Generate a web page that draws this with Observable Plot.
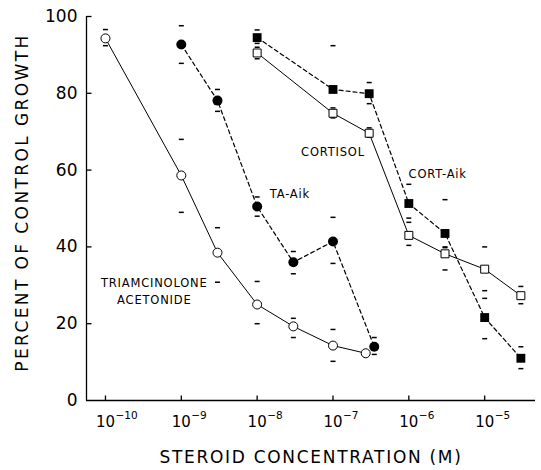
<!DOCTYPE html>
<html><head><meta charset="utf-8">
<script src="https://cdn.jsdelivr.net/npm/d3@7"></script>
<script src="https://cdn.jsdelivr.net/npm/@observablehq/plot@0.6"></script>
<style>html,body{margin:0;padding:0;background:#fff}</style>
</head><body><div id="chart"></div>
<script>
// ---- Data ----
const taConc   = [1e-10, 1e-9, 3e-9, 1e-8, 3e-8, 1e-7, 2.7e-7];
const taGrowth = [94.3, 58.6, 38.5, 25.0, 19.3, 14.3, 12.3];
const taHigh   = [96.6, 68.0, 45.0, 31.0, 21.4, 18.5, null];
const taLow    = [92.4, 49.0, 30.8, 20.0, 16.4, 10.2, null];

const taAikConc   = [1e-9, 3e-9, 1e-8, 3e-8, 1e-7, 3.5e-7];
const taAikGrowth = [92.7, 78.1, 50.5, 36.0, 41.4, 14.0];
const taAikHigh   = [97.6, 81.0, 53.0, 38.8, 47.7, 16.4];
const taAikLow    = [87.8, 75.3, 48.0, 33.0, 35.7, 12.0];

const cortConc   = [1e-8, 1e-7, 3e-7, 1e-6, 3e-6, 1e-5, 3e-5];
const cortGrowth = [90.5, 74.8, 69.6, 43.0, 38.2, 34.2, 27.3];
const cortHigh   = [92.0, 76.2, 71.0, 46.4, 40.0, 40.0, 29.7];
const cortLow    = [89.0, 73.6, 68.6, 40.4, 34.0, 28.6, 25.2];

const cortAikConc   = [1e-8, 1e-7, 3e-7, 1e-6, 3e-6, 1e-5, 3e-5];
const cortAikGrowth = [94.5, 81.0, 79.9, 51.3, 43.5, 21.6, 11.0];
const cortAikHigh   = [96.5, 92.4, 82.8, 56.3, 52.3, 26.6, 14.0];
const cortAikLow    = [93.0, null, 77.3, 47.5, 39.8, 16.1, 8.3];

const xTicks = [1e-10, 1e-9, 1e-8, 1e-7, 1e-6, 1e-5];
const xTickBase = "10";
const xTickExponents = ["-10", "-9", "-8", "-7", "-6", "-5"];
const yTicks = [0, 20, 40, 60, 80, 100];
const xDomain = [Math.pow(10, -10.25), Math.pow(10, -4.33)];
const yDomain = [0, 100];

const labels = [
  {conc: 1e-7,   growth: 65.1, text: "CORTISOL"},
  {conc: 2.4e-6, growth: 59.4, text: "CORT-Aik"},
  {conc: 2.7e-8, growth: 54.2, text: "TA-Aik"},
  {conc: 4.4e-10, growth: 28.7, text: "TRIAMCINOLONE\nACETONIDE"}
];
const xTitle = "STEROID CONCENTRATION (M)";
const yTitle = "PERCENT OF CONTROL GROWTH";

// ---- Build tables ----
const rows = (conc, growth) => conc.map((c, i) => ({conc: c, growth: growth[i]}));
const caps = (conc, hi, lo) => conc.flatMap((c, i) => [hi[i], lo[i]].filter(v => v != null).map(v => ({conc: c, v})));

const ta = rows(taConc, taGrowth), taAik = rows(taAikConc, taAikGrowth);
const cort = rows(cortConc, cortGrowth), cortAik = rows(cortAikConc, cortAikGrowth);
const errs = [
  ...caps(taConc, taHigh, taLow), ...caps(taAikConc, taAikHigh, taAikLow),
  ...caps(cortConc, cortHigh, cortLow), ...caps(cortAikConc, cortAikHigh, cortAikLow)
];
const xTickRows = xTicks.map((t, i) => ({conc: t, base: xTickBase, exp: xTickExponents[i].replace("-", "\u2212")}));

// custom symbols
const hline = {draw(ctx, size){ const w = Math.sqrt(size/Math.PI); ctx.moveTo(-w,0); ctx.lineTo(w,0);} };
const tickRight = {draw(ctx, size){ const w = Math.sqrt(size/Math.PI); ctx.moveTo(0,0); ctx.lineTo(w,0);} };
const tickUp = {draw(ctx, size){ const w = Math.sqrt(size/Math.PI); ctx.moveTo(0,0); ctx.lineTo(0,-w);} };

const font = "DejaVu Sans";
const chart = Plot.plot({
  width: 541, height: 470,
  marginLeft: 86, marginRight: 6, marginTop: 16, marginBottom: 70,
  style: {fontFamily: font, background: "#fff", color: "#000"},
  x: {type: "log", domain: xDomain, axis: null},
  y: {domain: yDomain},
  marks: [
    Plot.ruleX([xDomain[0]], {stroke: "#000", strokeWidth: 1.3}),
    Plot.ruleY([yDomain[0]], {stroke: "#000", strokeWidth: 1.3}),
    Plot.dot(yTicks.filter(d => d > 0), {x: () => xDomain[0], y: d => d, symbol: tickRight, r: 5, fill: "none", stroke: "#000", strokeWidth: 1.3}),
    Plot.dot(xTicks, {x: d => d, y: () => 0, symbol: tickUp, r: 5, fill: "none", stroke: "#000", strokeWidth: 1.3}),
    Plot.axisY({ticks: yTicks, tickSize: 0, tickPadding: 9, fontSize: 17, label: null}),
    Plot.text(xTickRows, {x: "conc", y: () => 0, text: "base", dy: 22, fontSize: 15, fill: "#000"}),
    Plot.text(xTickRows, {x: "conc", y: () => 0, text: "exp", dx: 10, dy: 15, textAnchor: "start", fontSize: 10.5, fill: "#000"}),
    Plot.line(ta, {x: "conc", y: "growth", stroke: "#000", strokeWidth: 1}),
    Plot.line(cort, {x: "conc", y: "growth", stroke: "#000", strokeWidth: 1}),
    Plot.line(taAik, {x: "conc", y: "growth", stroke: "#000", strokeWidth: 1.2, strokeDasharray: "4,3"}),
    Plot.line(cortAik, {x: "conc", y: "growth", stroke: "#000", strokeWidth: 1.2, strokeDasharray: "4,3"}),
    Plot.dot(errs, {x: "conc", y: "v", symbol: hline, r: 2.5, fill: "none", stroke: "#000", strokeWidth: 1.5}),
    Plot.dot(ta, {x: "conc", y: "growth", r: 4.5, fill: "#fff", stroke: "#000", strokeWidth: 1}),
    Plot.dot(cort, {x: "conc", y: "growth", symbol: "square", r: 4.5, fill: "#fff", stroke: "#000", strokeWidth: 1}),
    Plot.dot(taAik, {x: "conc", y: "growth", r: 5, fill: "#000", stroke: "none"}),
    Plot.dot(cortAik, {x: "conc", y: "growth", symbol: "square", r: 5, fill: "#000", stroke: "none"}),
    Plot.text(labels, {x: "conc", y: "growth", text: "text", fontSize: 11.5, fill: "#000", lineHeight: 1.45}),
    Plot.text([xTitle], {frameAnchor: "bottom", lineAnchor: "middle", textAnchor: "middle", dy: 57, fontSize: 17, fill: "#000"}),
    Plot.text([yTitle], {frameAnchor: "left", textAnchor: "middle", lineAnchor: "middle", dx: -64, dy: -6, rotate: -90, fontSize: 17, fill: "#000"})
  ]
});
document.getElementById("chart").appendChild(chart);
// letter spacing for the hand-lettered look
d3.select(chart).selectAll("text").each(function(){
  const t = this.textContent;
  if (t === xTitle) this.setAttribute("letter-spacing", "1.7");
  else if (t === yTitle) this.setAttribute("letter-spacing", "2.4");
  else if (/[A-Z]/.test(t)) this.setAttribute("letter-spacing", "0.8");
});
</script>
</body></html>
